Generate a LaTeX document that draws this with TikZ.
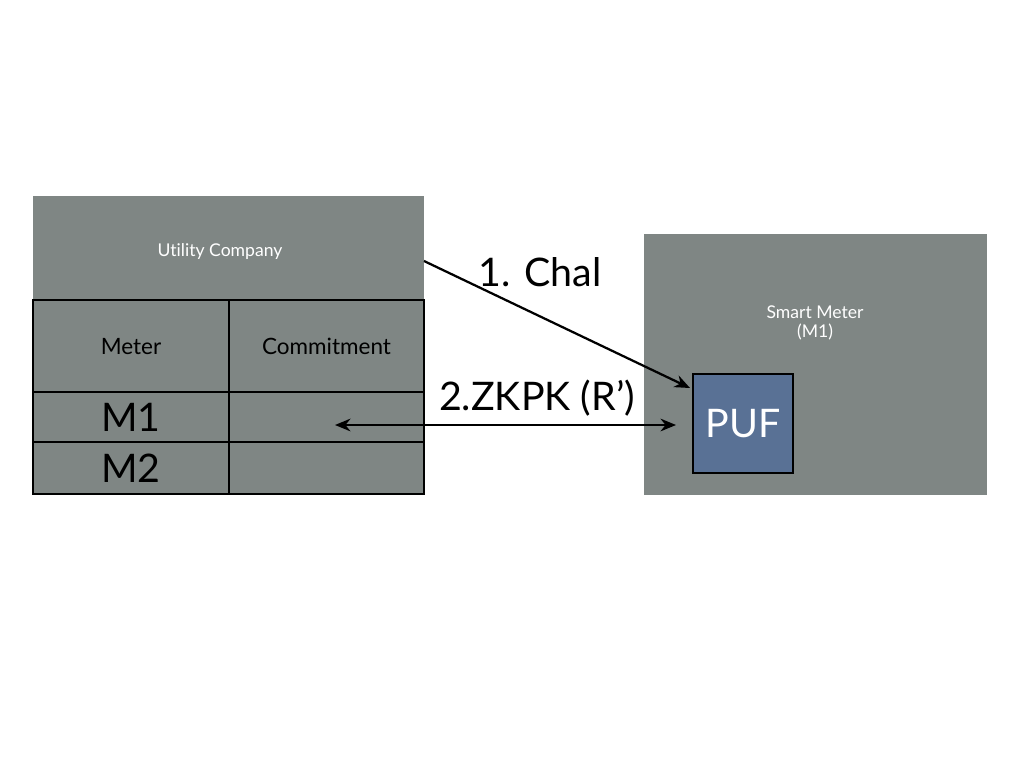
\documentclass[tikz,border=0pt]{standalone}
\usepackage{fontspec}
\setmainfont{Lato}[Ligatures=NoCommon]
\usetikzlibrary{arrows.meta}
\definecolor{boxgray}{RGB}{127,134,132}
\definecolor{pufblue}{RGB}{89,113,149}
\tikzset{
  panel/.style={rectangle, fill=boxgray, inner sep=0pt, text=white},
  cell/.style={rectangle, fill=boxgray, draw=black, line width=1.5pt, inner sep=0pt},
  msg/.style={line width=1.6pt, -{Stealth[length=11pt,width=9pt]}},
  head/.style={font=\fontsize{16}{20}\selectfont, text height=11.5pt, text depth=0pt},
  big/.style={font=\fontsize{28}{30}\selectfont, text height=20pt, text depth=0pt},
}
\begin{document}
\begin{tikzpicture}[x=0.025cm,y=-0.025cm]
\useasboundingbox (0,0) rectangle (1024,768);

% utility company with its table
\node[panel, minimum width=9.775cm, minimum height=2.6cm] (util) at (228.5,248) {};
\node[text=white, font=\fontsize{12.5}{14}\selectfont] (utillbl) at (220,252) {Utility Company};
\node[cell, head, minimum width=4.9cm, minimum height=2.3cm] (meter) at (131,346) {Meter};
\node[cell, head, minimum width=4.875cm, minimum height=2.3cm] (commit) at (326.5,346) {Commitment};
\node[cell, big, minimum width=4.9cm, minimum height=1.25cm] (m1) at (131,417) {M1};
\node[cell, minimum width=4.875cm, minimum height=1.25cm] (c1) at (326.5,417) {};
\node[cell, big, minimum width=4.9cm, minimum height=1.3cm] (m2) at (131,468) {M2};
\node[cell, minimum width=4.875cm, minimum height=1.3cm] (c2) at (326.5,468) {};

% smart meter
\node[panel, minimum width=8.575cm, minimum height=6.525cm] (smart) at (815.5,364.5) {};
\node[text=white, align=center, font=\fontsize{12.5}{14}\selectfont] (smartlbl) at (815,323)
     {Smart Meter\\(M1)};
\node[rectangle, big, fill=pufblue, draw=black, line width=1.5pt, inner sep=0pt,
      minimum width=2.5cm, minimum height=2.475cm, text=white] (puf) at (743,423.5) {PUF};

% messages
\coordinate (chalA) at (424,261);
\coordinate (chalB) at (690,388);
\coordinate (zkA) at (335,425);
\coordinate (zkB) at (676,425);
\draw[msg] (chalA) -- (chalB);
\draw[msg, {Stealth[length=11pt,width=9pt]}-{Stealth[length=11pt,width=9pt]}] (zkA) -- (zkB);
\node[big] (chal) at (540,272) {1. Chal};
\node[big] (zkpk) at (537,396) {2.ZKPK (R’)};
\end{tikzpicture}
\end{document}
